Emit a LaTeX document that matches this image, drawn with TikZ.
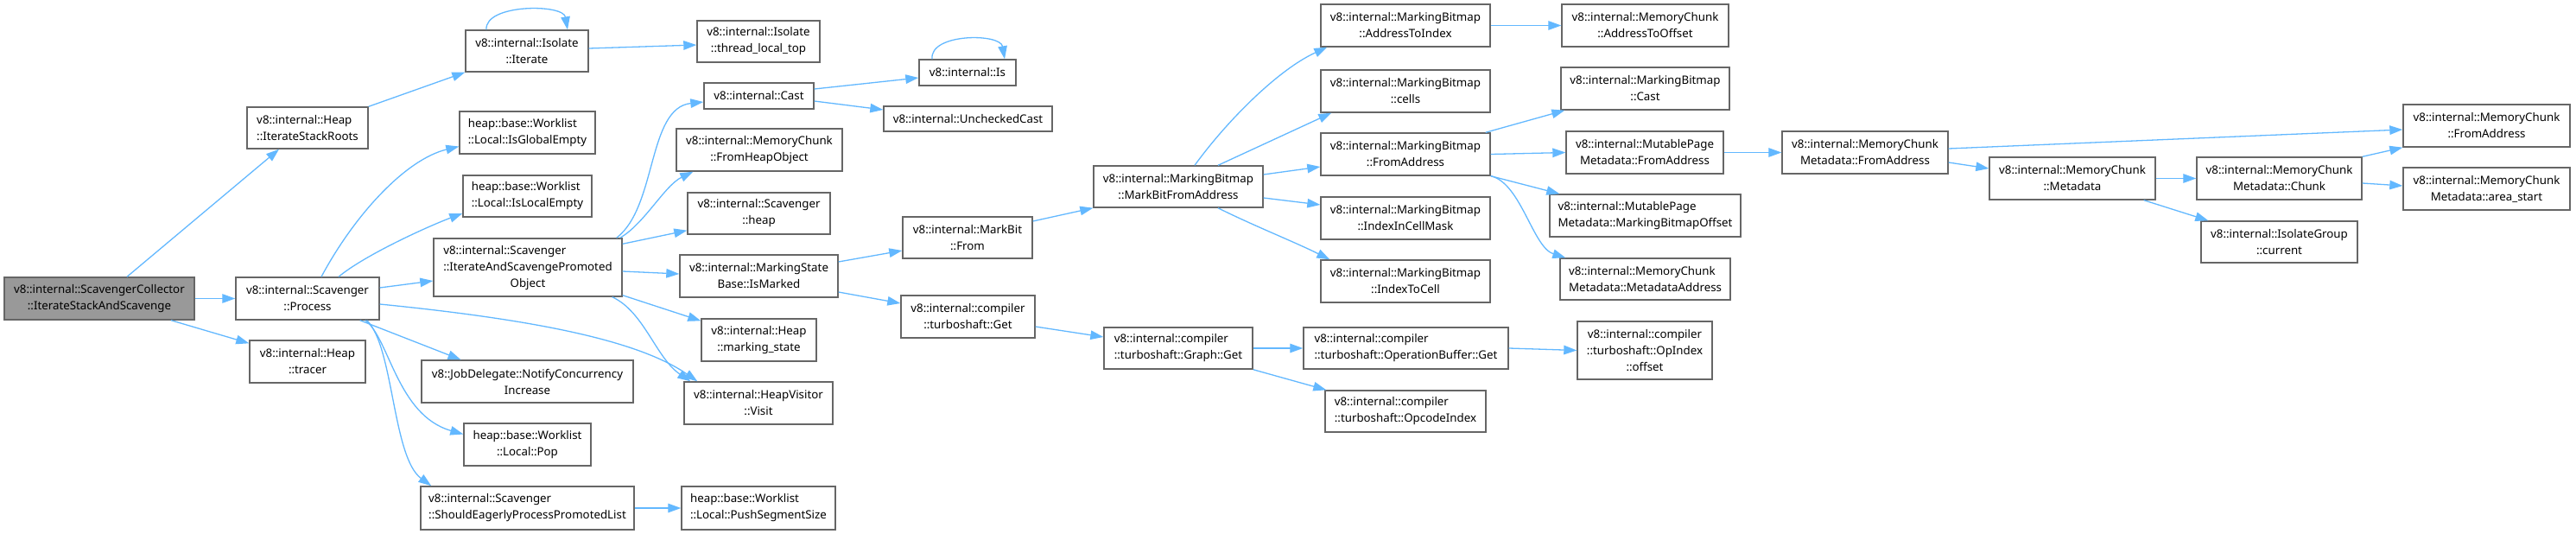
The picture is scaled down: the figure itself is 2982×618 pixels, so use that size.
\documentclass[tikz,border=0pt]{standalone}
\usepackage{fontspec}
\setmainfont{Noto Sans}
\usetikzlibrary{arrows.meta,calc}
\definecolor{edgeblue}{HTML}{63B8FF}
\definecolor{bordergray}{HTML}{666666}
\definecolor{rootfill}{HTML}{999999}
\tikzset{
  box/.style={draw=bordergray, line width=1.4pt, fill=white, inner sep=0pt, align=center,
    font=\fontsize{13.3}{19}\selectfont},
  lbox/.style={box, align=left},
  rootbox/.style={box, fill=rootfill},
  call/.style={draw=edgeblue, line width=1.3pt, -{Triangle[length=15pt,width=10.5pt]}},
}
% #1 style, #2 name, #3 x1, #4 y1, #5 x2, #6 y2, #7 text
\newcommand\gnode[7][box]{%
  \node[#1, minimum width={#5pt-#3pt}, minimum height={#6pt-#4pt}] (#2) at ({(#3+#5)/2},{(#4+#6)/2}) {#7};}
\begin{document}
\begin{tikzpicture}[x=1pt,y=-1pt]
\useasboundingbox (0,0) rectangle (2982,618);
% column 1-2
\gnode[rootbox]{ISC}{5}{321}{225}{370}{v8::internal::ScavengerCollector\\::IterateStackAndScavenge}
\gnode[lbox]{ISR}{286}{124}{426}{172}{v8::internal::Heap\\::IterateStackRoots}
\gnode{Proc}{273}{321}{439}{370}{v8::internal::Scavenger\\::Process}
\gnode{Tracer}{289}{394}{423}{443}{v8::internal::Heap\\::tracer}
% column 3
\gnode{Iter}{539}{35}{681}{83}{v8::internal::Isolate\\::Iterate}
\gnode[lbox]{IGE}{532}{129}{689}{178}{heap::base::Worklist\\::Local::IsGlobalEmpty}
\gnode[lbox]{ILE}{536}{203}{685}{251}{heap::base::Worklist\\::Local::IsLocalEmpty}
\gnode{IASPO}{502}{276}{720}{343}{\begin{tabular}{@{}l@{}}v8::internal::Scavenger\\::IterateAndScavengePromoted\\\multicolumn{1}{@{}c@{}}{Object}\end{tabular}}
\gnode{NCI}{488}{417}{733}{466}{v8::JobDelegate::NotifyConcurrency\\Increase}
\gnode{Pop}{537}{490}{684}{539}{heap::base::Worklist\\::Local::Pop}
\gnode[lbox]{SEP}{487}{563}{734}{613}{v8::internal::Scavenger\\::ShouldEagerlyProcessPromotedList}
% column 4
\gnode{TLT}{807}{24}{949}{72}{v8::internal::Isolate\\::thread\_local\_top}
\gnode{Cast}{815}{96}{942}{126}{v8::internal::Cast}
\gnode{FHO}{783}{149}{975}{198}{v8::internal::MemoryChunk\\::FromHeapObject}
\gnode{SHeap}{796}{223}{961}{271}{v8::internal::Scavenger\\::heap}
\gnode{IsM}{787}{295}{970}{344}{v8::internal::MarkingState\\Base::IsMarked}
\gnode{MS}{812}{369}{945}{418}{v8::internal::Heap\\::marking\_state}
\gnode{Visit}{792}{442}{964}{491}{v8::internal::HeapVisitor\\::Visit}
\gnode[lbox]{PSS}{789}{563}{967}{613}{heap::base::Worklist\\::Local::PushSegmentSize}
% column 5
\gnode{Is}{1064}{69}{1176}{99}{v8::internal::Is}
\gnode{UC}{1023}{123}{1218}{152}{v8::internal::UncheckedCast}
\gnode{MBF}{1045}{251}{1195}{299}{v8::internal::MarkBit\\::From}
\gnode{TSG}{1043}{342}{1198}{391}{v8::internal::compiler\\::turboshaft::Get}
% column 6
\gnode{MBFA}{1266}{192}{1462}{240}{v8::internal::MarkingBitmap\\::MarkBitFromAddress}
\gnode[lbox]{GG}{1278}{379}{1450}{427}{v8::internal::compiler\\::turboshaft::Graph::Get}
% column 7
\gnode{ATI}{1529}{5}{1725}{54}{v8::internal::MarkingBitmap\\::AddressToIndex}
\gnode{Cells}{1529}{81}{1725}{130}{v8::internal::MarkingBitmap\\::cells}
\gnode{MFA}{1529}{154}{1725}{203}{v8::internal::MarkingBitmap\\::FromAddress}
\gnode{ICM}{1529}{228}{1725}{277}{v8::internal::MarkingBitmap\\::IndexInCellMask}
\gnode{ITC}{1529}{301}{1725}{350}{v8::internal::MarkingBitmap\\::IndexToCell}
\gnode[lbox]{OBG}{1509}{379}{1746}{427}{v8::internal::compiler\\::turboshaft::OperationBuffer::Get}
\gnode[lbox]{OCI}{1534}{452}{1720}{500}{v8::internal::compiler\\::turboshaft::OpcodeIndex}
% column 8
\gnode{ATO}{1808}{5}{2001}{54}{v8::internal::MemoryChunk\\::AddressToOffset}
\gnode{MBC}{1807}{78}{2002}{127}{v8::internal::MarkingBitmap\\::Cast}
\gnode{MPFA}{1813}{152}{1995}{201}{v8::internal::MutablePage\\Metadata::FromAddress}
\gnode[lbox]{MBO}{1794}{225}{2015}{274}{v8::internal::MutablePage\\Metadata::MarkingBitmapOffset}
\gnode[lbox]{MDA}{1806}{299}{2003}{347}{v8::internal::MemoryChunk\\Metadata::MetadataAddress}
\gnode{OIO}{1826}{372}{1982}{439}{v8::internal::compiler\\::turboshaft::OpIndex\\::offset}
% column 9+
\gnode{MCMFA}{2063}{152}{2255}{201}{v8::internal::MemoryChunk\\Metadata::FromAddress}
\gnode{Meta}{2303}{182}{2495}{231}{v8::internal::MemoryChunk\\::Metadata}
\gnode{Chunk}{2543}{182}{2734}{231}{v8::internal::MemoryChunk\\Metadata::Chunk}
\gnode{IGC}{2548}{256}{2729}{304}{v8::internal::IsolateGroup\\::current}
\gnode{MCFA}{2782}{121}{2975}{170}{v8::internal::MemoryChunk\\::FromAddress}
\gnode{AS}{2782}{194}{2975}{243}{v8::internal::MemoryChunk\\Metadata::area\_start}

% edges
\draw[call] ([xshift=32pt]ISC.north) -- ([xshift=-33pt]ISR.south);
\draw[call] (ISC.east) -- (Proc.west);
\draw[call] ([xshift=83pt]ISC.south) -- ([yshift=-4pt]Tracer.north west);
\draw[call] (ISR.north east) -- (Iter.south west);
\draw[call] ([xshift=-47pt]Iter.north) .. controls +(-2,-30) and +(-5,-30) .. ([xshift=47pt]Iter.north);
\draw[call] ([yshift=3pt]Iter.east) -- ([yshift=-4pt]TLT.west);
\draw[call] ([xshift=16pt]Proc.north) .. controls +(38,-71) and +(-62,15) .. ([yshift=-16pt]IGE.west);
\draw[call] ([xshift=36pt]Proc.north) .. controls +(30,-25) and +(-40,15) .. ([yshift=-20pt]ILE.west);
\draw[call] ([yshift=12.5pt]Proc.east) -- ([yshift=-15.5pt]IASPO.west);
\draw[call] ([yshift=-6.5pt]Proc.east) .. controls +(181,18) and +(-68,-47) .. ([xshift=16pt]Visit.north west);
\draw[call] ([xshift=-23pt]Proc.south east) -- ([xshift=-77pt]NCI.north);
\draw[call] ([xshift=-17pt]Proc.south east) .. controls +(28,20) and +(-77,-22) .. ([yshift=12pt]Pop.west);
\draw[call] ([xshift=-15pt]Proc.south east) .. controls +(31,30) and +(-45,-33) .. ([xshift=13pt]SEP.north west);
\draw[call] (SEP.east) -- (PSS.west);
\draw[call] ([xshift=-7pt]IASPO.north east) .. controls +(47,-36) and +(-65,7) .. ([yshift=-7pt]Cast.west);
\draw[call] ([xshift=-3pt]IASPO.north east) .. controls +(28,-16) and +(-33,16) .. ([xshift=20pt]FHO.south west);
\draw[call] ([yshift=-7pt]IASPO.north east) -- ([yshift=5pt]SHeap.south west);
\draw[call] ([yshift=-4.5pt]IASPO.east) -- ([yshift=2.5pt]IsM.west);
\draw[call] ([yshift=2pt]IASPO.south east) -- ([yshift=-3pt]MS.north west);
\draw[call] ([xshift=-12pt]IASPO.south east) .. controls +(37,17) and +(-40,-27) .. ([xshift=8pt]Visit.north west);
\draw[call] ([yshift=8pt]Cast.east) -- ([yshift=-6pt]Is.west);
\draw[call] ([yshift=-6pt]Cast.east) -- ([yshift=10.5pt]UC.west);
\draw[call] ([xshift=-41pt]Is.north) .. controls +(-3,-30) and +(-5,-30) .. ([xshift=43pt]Is.north);
\draw[call] ([yshift=16.5pt]IsM.east) -- ([yshift=-15pt]MBF.west);
\draw[call] ([yshift=-18.5pt]IsM.east) -- ([yshift=15.5pt]TSG.west);
\draw[call] ([yshift=19pt]MBF.east) -- (MBFA.south west);
\draw[call] ([yshift=-11.5pt]TSG.east) -- ([yshift=13pt]GG.west);
\draw[call] ([xshift=19pt]MBFA.north) .. controls +(37,-51) and +(-57,26) .. ([xshift=8pt]ATI.south west);
\draw[call] ([xshift=46pt]MBFA.north) -- ([xshift=13pt]Cells.south west);
\draw[call] ([yshift=14pt]MBFA.east) -- ([yshift=-14.5pt]MFA.west);
\draw[call] ([yshift=-13pt]MBFA.east) -- ([yshift=15.5pt]ICM.west);
\draw[call] ([xshift=46pt]MBFA.south) .. controls +(40,20) and +(-40,-20) .. ([xshift=11pt]ITC.north west);
\draw[call] (ATI.east) -- (ATO.west);
\draw[call] ([xshift=-6pt]MFA.north east) -- ([xshift=5pt]MBC.south west);
\draw[call] (MFA.east) -- (MPFA.west);
\draw[call] (MFA.south east) -- ([xshift=12pt]MBO.north west);
\draw[call] (MFA.south east) .. controls +(35,8) and +(-38,-12) .. ([xshift=7pt]MDA.north west);
\draw[call] (MPFA.east) -- (MCMFA.west);
\draw[call] ([yshift=4.5pt]MCMFA.east) -- ([yshift=-4.5pt]MCFA.west);
\draw[call] ([yshift=-11.5pt]MCMFA.east) -- ([yshift=11.5pt]Meta.west);
\draw[call] (Meta.east) -- (Chunk.west);
\draw[call] ([xshift=-14pt]Meta.south east) -- ([xshift=9pt]IGC.north west);
\draw[call] (Chunk.north east) -- (MCFA.south west);
\draw[call] ([yshift=-5.5pt]Chunk.east) -- ([yshift=3.5pt]AS.west);
\draw[call] (GG.east) -- (OBG.west);
\draw[call] (GG.south east) -- ([xshift=2pt]OCI.north west);
\draw[call] (OBG.east) -- (OIO.west);
\end{tikzpicture}
\end{document}
